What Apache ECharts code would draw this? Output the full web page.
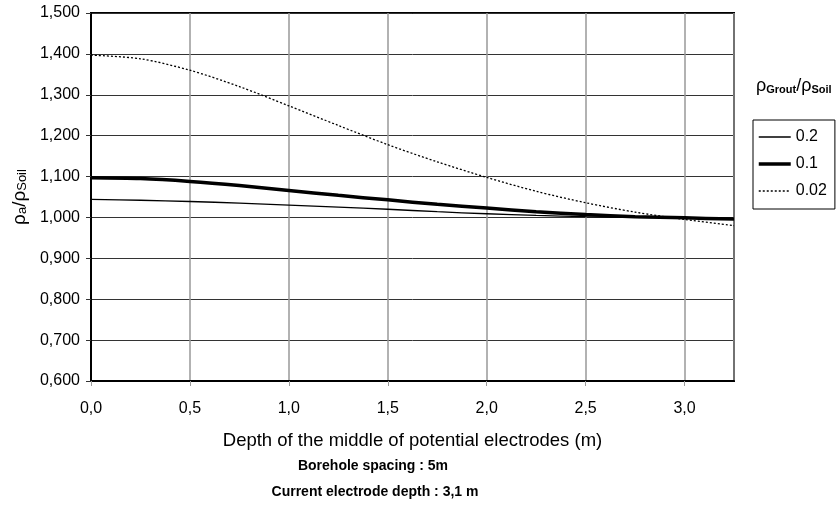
<!DOCTYPE html>
<html>
<head>
<meta charset="utf-8">
<script src="https://cdn.jsdelivr.net/npm/echarts@6/dist/echarts.min.js"></script>
<style>html,body{margin:0;padding:0;background:#fff}#c{width:837px;height:506px}</style>
</head>
<body>
<div id="c"></div>
<script>
const depths = [0, 0.25, 0.5, 0.75, 1.0, 1.25, 1.5, 1.75, 2.0, 2.25, 2.5, 2.75, 3.0, 3.25];
const ratio02 = [1.044, 1.042, 1.039, 1.035, 1.030, 1.025, 1.020, 1.014, 1.009, 1.005, 1.002, 1.000, 0.999, 0.997];
const ratio01 = [1.097, 1.095, 1.088, 1.078, 1.066, 1.054, 1.043, 1.032, 1.023, 1.014, 1.007, 1.002, 0.999, 0.996];
const ratio002 = [1.397, 1.388, 1.360, 1.320, 1.273, 1.225, 1.178, 1.136, 1.098, 1.064, 1.036, 1.013, 0.995, 0.980];
const seriesNames = ['0.2', '0.1', '0.02'];
const xTitle = 'Depth of the middle of potential electrodes (m)';
const note1 = 'Borehole spacing : 5m';
const note2 = 'Current electrode depth : 3,1 m';

const FONT = 'Liberation Sans, Arial, sans-serif';
const pairs = arr => depths.map((d, i) => [d, arr[i]]);
const lineStyles = [
  {color: '#000', width: 1.3, type: 'solid'},
  {color: '#000', width: 3.5, type: 'solid'},
  {color: '#000', width: 1.3, type: [2, 2]}
];

const chart = echarts.init(document.getElementById('c'), null, {renderer: 'canvas'});
chart.setOption({
  animation: false,
  backgroundColor: '#fff',
  textStyle: {fontFamily: FONT, color: '#000'},
  grid: {left: 91, top: 13, right: 103, bottom: 125, show: true, borderColor: '#000', borderWidth: 2, backgroundColor: 'transparent'},
  xAxis: {
    type: 'value', min: 0, max: 3.25, interval: 0.5,
    axisLine: {lineStyle: {color: '#000', width: 2}},
    axisTick: {show: true, length: 5, lineStyle: {color: '#999'}},
    splitLine: {show: true, lineStyle: {color: '#999', width: 1.5}},
    axisLabel: {fontSize: 16, color: '#000', margin: 20, showMaxLabel: false, fontFamily: FONT,
      formatter: v => v.toFixed(1).replace('.', ',')},
    name: xTitle, nameLocation: 'middle', nameGap: 50,
    nameTextStyle: {fontSize: 18.5, color: '#000', fontFamily: FONT}
  },
  yAxis: {
    type: 'value', min: 0.6, max: 1.5, interval: 0.1,
    axisLine: {show: true, lineStyle: {color: '#000', width: 2}},
    axisTick: {show: true, length: 5, lineStyle: {color: '#333'}},
    splitLine: {show: true, lineStyle: {color: '#333', width: 1}},
    axisLabel: {fontSize: 16, color: '#000', margin: 11, fontFamily: FONT,
      formatter: v => v.toFixed(3).replace('.', ',')},
    name: '{r|ρ}{s|a}{r|/ρ}{s|Soil}', nameLocation: 'middle', nameRotate: 90, nameGap: 61,
    nameTextStyle: {
      rich: {
        r: {fontSize: 19, fontFamily: FONT, color: '#000', verticalAlign: 'bottom', lineHeight: 22},
        s: {fontSize: 13, fontFamily: FONT, color: '#000', verticalAlign: 'bottom', lineHeight: 17}
      }
    }
  },
  legend: {
    show: true, orient: 'vertical', left: 753, top: 120,
    padding: [9, 8, 10, 4], itemWidth: 32, itemHeight: 14, itemGap: 11,
    borderColor: '#000', borderWidth: 1,
    itemStyle: {opacity: 0},
    textStyle: {fontSize: 16, color: '#000', fontFamily: FONT},
    data: seriesNames.map((n, i) => ({name: n, lineStyle: lineStyles[i], itemStyle: {opacity: 0}}))
  },
  graphic: [
    {type: 'text', x: 756, y: 75, style: {
      text: '{r|ρ}{s|Grout}{r|/ρ}{s|Soil}',
      rich: {
        r: {fontSize: 18, fontFamily: FONT, fill: '#000', verticalAlign: 'bottom', lineHeight: 20},
        s: {fontSize: 11, fontWeight: 'bold', fontFamily: FONT, fill: '#000', verticalAlign: 'bottom', lineHeight: 15}
      }
    }},
    {type: 'text', x: 373, y: 466, style: {text: note1, font: 'bold 14px ' + FONT, fill: '#000', align: 'center', verticalAlign: 'middle'}},
    {type: 'text', x: 375, y: 492, style: {text: note2, font: 'bold 14px ' + FONT, fill: '#000', align: 'center', verticalAlign: 'middle'}}
  ],
  series: [
    {name: seriesNames[0], type: 'line', data: pairs(ratio02), smooth: 0.3, symbol: 'none',
      lineStyle: lineStyles[0], itemStyle: {color: '#000'}},
    {name: seriesNames[1], type: 'line', data: pairs(ratio01), smooth: 0.3, symbol: 'none',
      lineStyle: lineStyles[1], itemStyle: {color: '#000'}},
    {name: seriesNames[2], type: 'line', data: pairs(ratio002), smooth: 0.3, symbol: 'none',
      lineStyle: lineStyles[2], itemStyle: {color: '#000'}}
  ]
});
</script>
</body>
</html>
